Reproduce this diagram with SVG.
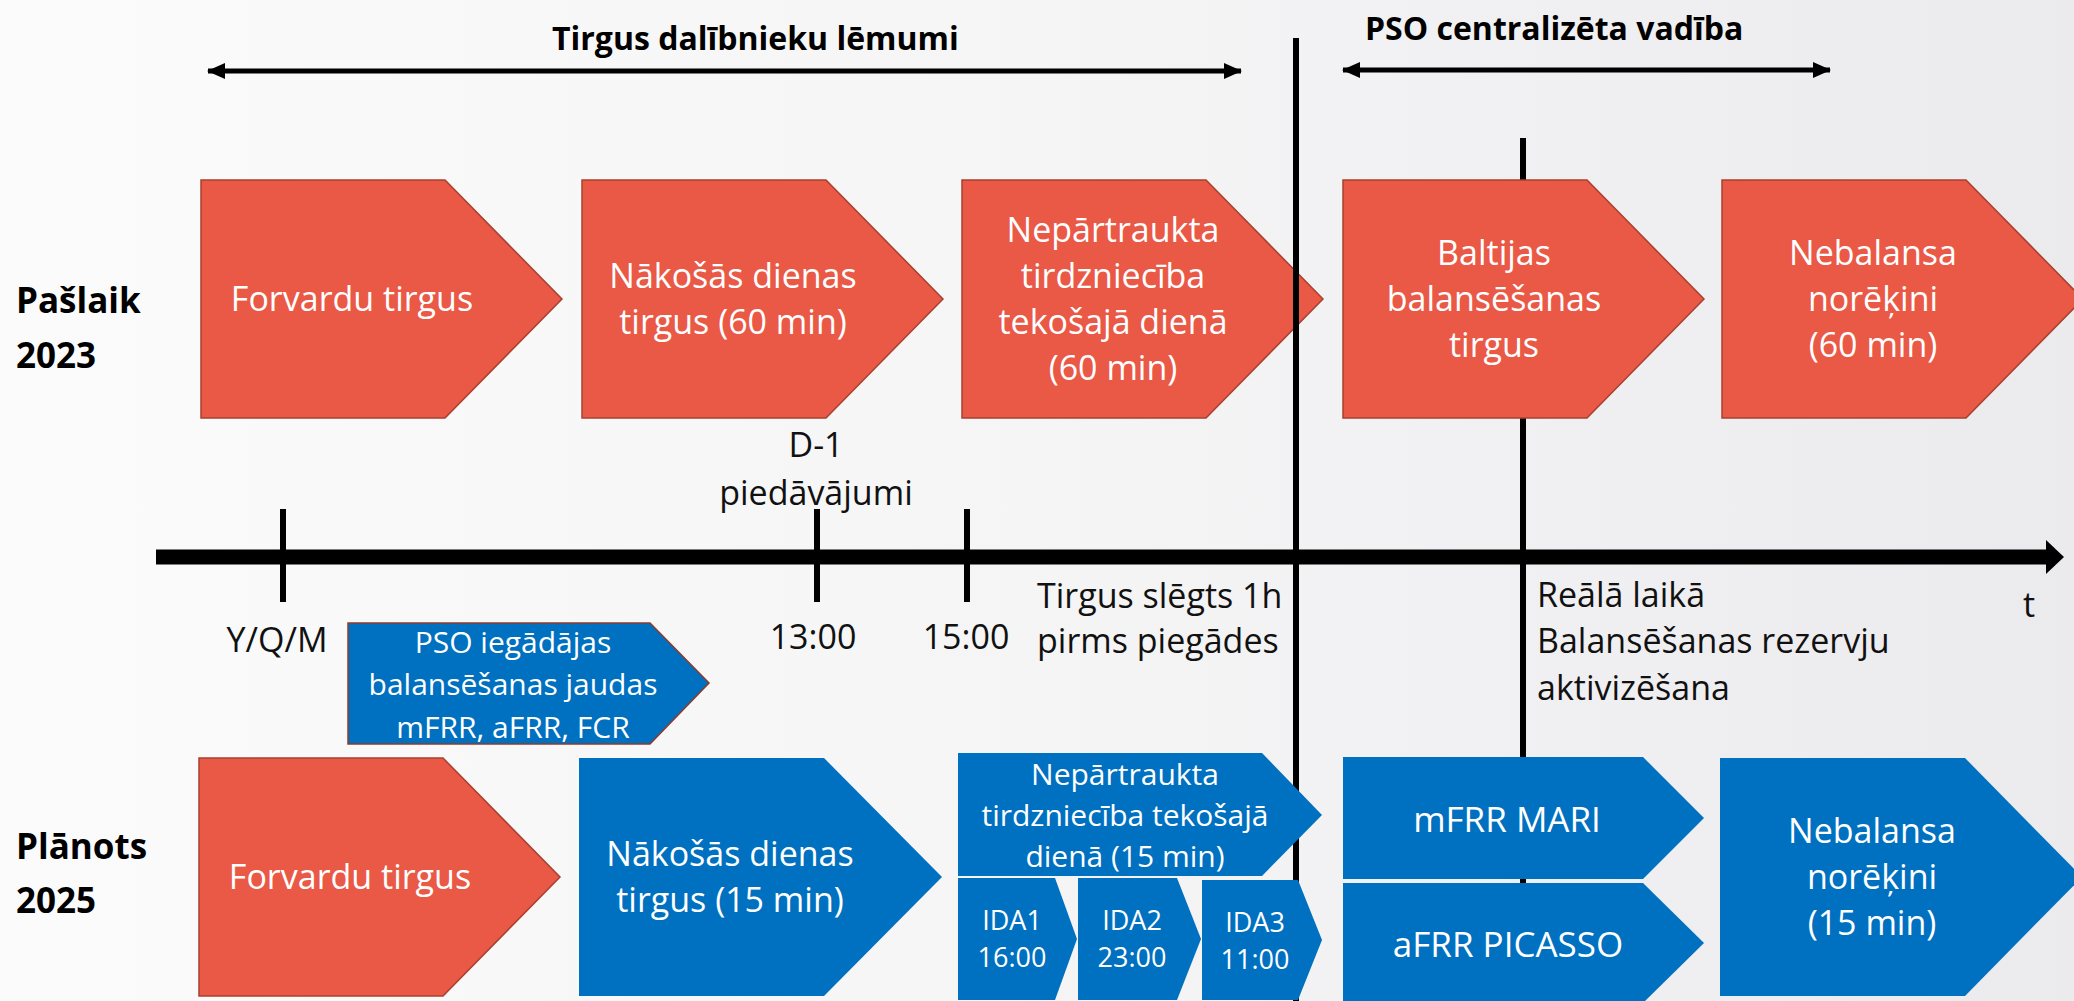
<svg xmlns="http://www.w3.org/2000/svg" width="2074" height="1001" viewBox="0 0 2074 1001">
<style>
.red{fill:#EA5846;stroke:#A8402F;stroke-width:1.5}
.blue{fill:#0070C0}
.bluebr{fill:#0070C0;stroke:#8A3B2C;stroke-width:1.5}
.wt{font-family:"Open Sans","Noto Sans","DejaVu Sans",sans-serif;fill:#FFFFFF;text-anchor:middle}
.bt{font-family:"Open Sans","Noto Sans","DejaVu Sans",sans-serif;fill:#111111;font-size:34px}
.hd{font-family:"Open Sans","Noto Sans","DejaVu Sans",sans-serif;fill:#000000;font-weight:bold;font-size:32px}
.rl{font-family:"Open Sans","Noto Sans","DejaVu Sans",sans-serif;fill:#000000;font-weight:bold;font-size:35px}
.s34{font-size:34px}.s30{font-size:30px}.s27{font-size:27px}.s35{font-size:35px}
.ln{stroke:#000000;fill:none}
</style>
<defs>
<linearGradient id="bg" x1="0" y1="0" x2="1" y2="0">
<stop offset="0" stop-color="#FBFBFC"/>
<stop offset="0.5" stop-color="#F5F5F6"/>
<stop offset="1" stop-color="#EBEAED"/>
</linearGradient>
<marker id="ah" viewBox="0 0 18 18" refX="17" refY="9" markerWidth="18" markerHeight="18" markerUnits="userSpaceOnUse" orient="auto-start-reverse">
<path d="M0,1 L18,9 L0,17 Z" fill="#000"/>
</marker>
</defs>
<rect x="0" y="0" width="2074" height="1001" fill="url(#bg)"/>

<!-- short divider (behind nodes) -->
<g id="divider-realtime">
<line class="ln" x1="1523" y1="138" x2="1523" y2="890" stroke-width="6"/>
</g>

<!-- Row 2023 nodes -->
<g id="node-forvardu-2023">
<path class="red" d="M201,180 H445 L562,299 L445,418 H201 Z"/>
<text class="wt s34" x="352" y="311">Forvardu tirgus</text>
</g>
<g id="node-nakosas-2023">
<path class="red" d="M582,180 H826 L943,299 L826,418 H582 Z"/>
<text class="wt s34" x="733"><tspan x="733" y="288">Nākošās dienas</tspan><tspan x="733" y="334">tirgus (60 min)</tspan></text>
</g>
<g id="node-nepartraukta-2023">
<path class="red" d="M962,180 H1206 L1323,299 L1206,418 H962 Z"/>
<text class="wt s34"><tspan x="1113" y="242">Nepārtraukta</tspan><tspan x="1113" y="288">tirdzniecība</tspan><tspan x="1113" y="334">tekošajā dienā</tspan><tspan x="1113" y="380">(60 min)</tspan></text>
</g>
<g id="node-baltijas-2023">
<path class="red" d="M1343,180 H1587 L1704,299 L1587,418 H1343 Z"/>
<text class="wt s34"><tspan x="1494" y="265">Baltijas</tspan><tspan x="1494" y="311">balansēšanas</tspan><tspan x="1494" y="357">tirgus</tspan></text>
</g>
<g id="node-nebalansa-2023">
<path class="red" d="M1722,180 H1966 L2083,299 L1966,418 H1722 Z"/>
<text class="wt s34"><tspan x="1873" y="265">Nebalansa</tspan><tspan x="1873" y="311">norēķini</tspan><tspan x="1873" y="357">(60 min)</tspan></text>
</g>

<!-- connectors: arrows, timeline, ticks, main divider -->
<g id="connectors">
<line class="ln" x1="208" y1="71" x2="1241" y2="71" stroke-width="5" marker-start="url(#ah)" marker-end="url(#ah)"/>
<line class="ln" x1="1343" y1="70" x2="1830" y2="70" stroke-width="5" marker-start="url(#ah)" marker-end="url(#ah)"/>
<line class="ln" x1="156" y1="557" x2="2048" y2="557" stroke-width="15"/>
<path d="M2046,540 L2064,557 L2046,574 Z" fill="#000"/>
<line class="ln" x1="283" y1="509" x2="283" y2="602" stroke-width="6"/>
<line class="ln" x1="817" y1="509" x2="817" y2="602" stroke-width="6"/>
<line class="ln" x1="967" y1="509" x2="967" y2="602" stroke-width="6"/>
<line class="ln" x1="1296" y1="38" x2="1296" y2="1001" stroke-width="6"/>
</g>

<!-- Row 2025 nodes -->
<g id="node-pso-iegadajas">
<path class="bluebr" d="M348,623 H650 L709,683 L650,744 H348 Z"/>
<text class="wt s30"><tspan x="513" y="653">PSO iegādājas</tspan><tspan x="513" y="695">balansēšanas jaudas</tspan><tspan x="513" y="738">mFRR, aFRR, FCR</tspan></text>
</g>
<g id="node-forvardu-2025">
<path class="red" d="M199,758 H443 L560,877 L443,996 H199 Z"/>
<text class="wt s34" x="350" y="889">Forvardu tirgus</text>
</g>
<g id="node-nakosas-2025">
<path class="blue" d="M579,758 H824 L942,877 L824,996 H579 Z"/>
<text class="wt s34"><tspan x="730" y="866">Nākošās dienas</tspan><tspan x="730" y="912">tirgus (15 min)</tspan></text>
</g>
<g id="node-nepartraukta-2025">
<path class="blue" d="M958,753 H1262 L1322,815 L1262,876 H958 Z"/>
<text class="wt s30"><tspan x="1125" y="785">Nepārtraukta</tspan><tspan x="1125" y="826">tirdzniecība tekošajā</tspan><tspan x="1125" y="867">dienā (15 min)</tspan></text>
</g>
<g id="node-ida1">
<path class="blue" d="M958,878 H1055 L1077,939 L1055,1000 H958 Z"/>
<text class="wt s27"><tspan x="1012" y="930">IDA1</tspan><tspan x="1012" y="967">16:00</tspan></text>
</g>
<g id="node-ida2">
<path class="blue" d="M1078,878 H1177 L1201,939 L1177,1000 H1078 Z"/>
<text class="wt s27"><tspan x="1132" y="930">IDA2</tspan><tspan x="1132" y="967">23:00</tspan></text>
</g>
<g id="node-ida3">
<path class="blue" d="M1202,880 H1298 L1322,940 L1298,1000 H1202 Z"/>
<text class="wt s27"><tspan x="1255" y="932">IDA3</tspan><tspan x="1255" y="969">11:00</tspan></text>
</g>
<g id="node-mfrr-mari">
<path class="blue" d="M1343,757 H1643 L1704,818 L1643,879 H1343 Z"/>
<text class="wt s35" x="1507" y="832">mFRR MARI</text>
</g>
<g id="node-afrr-picasso">
<path class="blue" d="M1343,883 H1643 L1704,943 L1643,1003 H1343 Z"/>
<text class="wt s35" x="1508" y="957">aFRR PICASSO</text>
</g>
<g id="node-nebalansa-2025">
<path class="blue" d="M1720,758 H1965 L2082,877 L1965,996 H1720 Z"/>
<text class="wt s34"><tspan x="1872" y="843">Nebalansa</tspan><tspan x="1872" y="889">norēķini</tspan><tspan x="1872" y="935">(15 min)</tspan></text>
</g>

<!-- labels -->
<g id="labels">
<text class="hd" x="552" y="50">Tirgus dalībnieku lēmumi</text>
<text class="hd" x="1365" y="40">PSO centralizēta vadība</text>
<text class="rl"><tspan x="16" y="313">Pašlaik</tspan><tspan x="16" y="368">2023</tspan></text>
<text class="rl"><tspan x="16" y="859">Plānots</tspan><tspan x="16" y="913">2025</tspan></text>
<text class="bt" text-anchor="middle"><tspan x="816" y="457">D-1</tspan><tspan x="816" y="505">piedāvājumi</tspan></text>
<text class="bt" x="277" y="652" text-anchor="middle">Y/Q/M</text>
<text class="bt" x="813" y="649" text-anchor="middle">13:00</text>
<text class="bt" x="966" y="649" text-anchor="middle">15:00</text>
<text class="bt"><tspan x="1037" y="608">Tirgus slēgts 1h</tspan><tspan x="1037" y="653">pirms piegādes</tspan></text>
<text class="bt"><tspan x="1537" y="607">Reālā laikā</tspan><tspan x="1537" y="653">Balansēšanas rezervju</tspan><tspan x="1537" y="700">aktivizēšana</tspan></text>
<text class="bt" x="2023" y="617">t</text>
</g>
</svg>
